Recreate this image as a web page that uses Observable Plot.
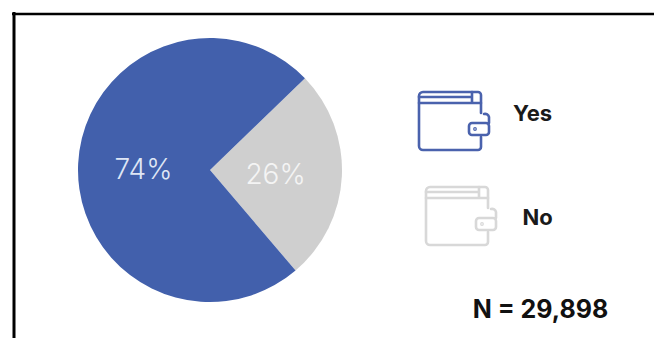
<!DOCTYPE html>
<html>
<head>
<meta charset="utf-8">
<script src="https://cdn.jsdelivr.net/npm/d3@7"></script>
<script src="https://cdn.jsdelivr.net/npm/@observablehq/plot@0.6"></script>
<style>
  html, body { margin: 0; padding: 0; background: #fff; }
  svg { display: block; }
</style>
</head>
<body>
<div id="chart"></div>
<script>
// Share of respondents, clockwise from the upper boundary of the "No" slice
const categories = ["No", "Yes"];
const shares = [26, 74];
const sliceColors = ["#cfcfcf", "#4260ac"];
const sampleNote = "N = 29,898";

const W = 654, H = 338;
const font = "Inter, 'Liberation Sans', sans-serif";
const center = {x: 210, y: 170};
const radius = 132;
const startAngle = 46 * Math.PI / 180;

const rows = categories.map((category, i) => ({category, share: shares[i], color: sliceColors[i]}));
const pie = d3.pie().sort(null).value(d => d.share).startAngle(startAngle).endAngle(startAngle + 2 * Math.PI);

// Pie slices, placed through the chart's x and y scales
const pieMark = (index, {x, y}) => {
  const g = d3.create("svg:g").attr("transform", `translate(${x(center.x)},${y(center.y)})`);
  const r = x(center.x + radius) - x(center.x);
  const arc = d3.arc().innerRadius(0).outerRadius(r);
  g.selectAll("path")
    .data(pie(rows))
    .join("path")
    .attr("d", arc)
    .attr("fill", d => d.data.color);
  return g.node();
};

// Wallet pictogram: body open on the right for the clasp, flap bands, clasp and its hook
const walletMark = (px, py, color) => (index, {x, y}) => {
  const g = d3.create("svg:g")
    .attr("transform", `translate(${x(px)},${y(py)})`)
    .attr("fill", "none")
    .attr("stroke", color)
    .attr("stroke-width", 2.6)
    .attr("stroke-linejoin", "round")
    .attr("stroke-linecap", "round");
  g.append("path").attr("d", "M63 21V3a3 3 0 0 0-3-3H5a4 4 0 0 0-4 4V54a4 4 0 0 0 4 4H60a3 3 0 0 0 3-3V45");
  g.append("path").attr("d", "M1 5H54M1 11H63M54 0V11");
  g.append("rect").attr("x", 51).attr("y", 31).attr("width", 20).attr("height", 12).attr("rx", 3);
  g.append("path").attr("d", "M66 22a4 4 0 0 1 5 3V31");
  g.append("circle").attr("cx", 57).attr("cy", 37).attr("r", 0.6);
  return g.node();
};

const labels = [
  {x: 143, y: 170, text: "74%", color: "#dfe6f5", size: 28, weight: 300},
  {x: 275, y: 175, text: "26%", color: "#f4f4f4", size: 28, weight: 300}
];
const keys = [
  {x: 532, y: 113, text: "Yes", color: "#1a1a1a", size: 22, weight: 700},
  {x: 537, y: 217, text: "No", color: "#1a1a1a", size: 22, weight: 700}
];
const notes = [
  {x: 540, y: 309, text: sampleNote, color: "#111", size: 25, weight: 700}
];
const textMark = d => Plot.text(d, {
  x: "x", y: "y", text: "text", fill: "color",
  fontSize: d[0].size, fontWeight: d[0].weight, fontFamily: font, textAnchor: "middle"
});

const plot = Plot.plot({
  width: W,
  height: H,
  margin: 0,
  x: {domain: [0, W], range: [0, W], axis: null},
  y: {domain: [0, H], range: [0, H], axis: null},
  style: {background: "#fff", fontFamily: font},
  marks: [
    // Frame runs off the right and bottom of the page
    Plot.ruleY([13.5], {x1: 12, x2: W, stroke: "#000", strokeWidth: 2.5}),
    Plot.ruleX([13.5], {y1: 12, y2: H, stroke: "#000", strokeWidth: 3}),
    pieMark,
    textMark(labels),
    walletMark(418, 92, "#4a62ad"),
    walletMark(425, 187, "#d8d8d8"),
    textMark(keys),
    textMark(notes)
  ]
});
document.getElementById("chart").append(plot);
</script>
</body>
</html>
